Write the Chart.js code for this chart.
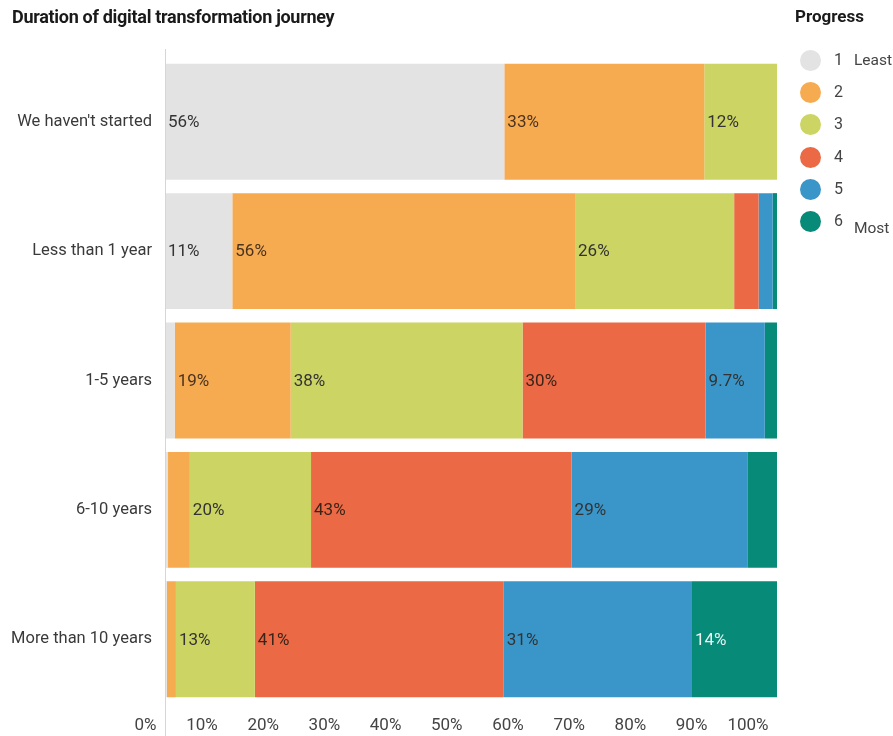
<!DOCTYPE html>
<html>
<head>
<meta charset="utf-8">
<script src="https://cdn.jsdelivr.net/npm/chart.js@4.4.1/dist/chart.umd.min.js"></script>
<style>
  body { margin: 0; background: #fff; }
  #wrap { position: relative; width: 893px; height: 736px; }
  #title { position: absolute; left: 12px; top: 6px; font: bold 18px Roboto, sans-serif; color: #1a1a1a; letter-spacing: -0.3px; }
  #legend { position: absolute; left: 795px; top: 6px; font-family: Roboto, sans-serif; color: #444; }
  #legend .head { font: bold 17px Roboto, sans-serif; color: #1a1a1a; margin-bottom: 24px; }
  #legend .item { position: relative; height: 32.2px; }
  #legend .dot { position: absolute; left: 5px; top: 0; width: 21px; height: 21px; border-radius: 50%; }
  #legend .num { position: absolute; left: 39px; top: 0px; font-size: 16px; line-height: 20px; }
  #legend .txt { position: absolute; left: 59px; top: 0px; font-size: 15.5px; line-height: 20px; }
</style>
</head>
<body>
<div id="wrap">
  <canvas id="chart" width="893" height="736"></canvas>
  <div id="title">Duration of digital transformation journey</div>
  <div id="legend"></div>
</div>
<script>
const categories = ["We haven't started", "Less than 1 year", "1-5 years", "6-10 years", "More than 10 years"];

// share of respondents at each progress level (1 = least, 6 = most)
const progress1 = [56, 11, 1.6, 0.5, 0.3];
const progress2 = [33, 56, 19, 3.6, 1.5];
const progress3 = [12, 26, 38, 20, 13];
const progress4 = [0, 4, 30, 43, 41];
const progress5 = [0, 2.3, 9.7, 29, 31];
const progress6 = [0, 0.7, 2, 4.9, 14];

const seriesNames = ["1", "2", "3", "4", "5", "6"];
const seriesNotes = ["Least", "", "", "", "", "Most"];
const colors = ["#e3e3e3", "#f6ab51", "#ccd463", "#eb6945", "#3a96c9", "#078a78"];
const labelColors = ["#333", "#4a3320", "#333", "#3a2418", "#333", "#e8f4f1"];

const xTicks = [0, 10, 20, 30, 40, 50, 60, 70, 80, 90, 100];

const allSeries = [progress1, progress2, progress3, progress4, progress5, progress6];

// each row is shown as a 100% bar
const rowTotals = categories.map((c, i) =>
    allSeries.reduce((sum, s) => sum + s[i], 0)
);

const datasets = allSeries.map((s, k) => ({
    label: seriesNames[k],
    data: s.map((v, i) => v / rowTotals[i] * 100),
    raw: s,
    backgroundColor: colors[k],
    borderWidth: 0,
    categoryPercentage: 1,
    barPercentage: 0.896
}));

// legend
const legend = document.getElementById("legend");
legend.innerHTML = '<div class="head">Progress</div>';
seriesNames.forEach((name, k) => {
    const item = document.createElement("div");
    item.className = "item";
    item.innerHTML = `<div class="dot" style="background:${colors[k]}"></div>` +
        `<div class="num">${name}</div>` +
        (seriesNotes[k] ? `<div class="txt" style="top:${k == 5 ? 7 : 0}px">${seriesNotes[k]}</div>` : "");
    legend.appendChild(item);
});

function fmt(v) {
    return v >= 10 ? Math.round(v) + "%" : v.toFixed(1) + "%";
}

const segmentLabels = {
    id: "segmentLabels",
    afterDatasetsDraw(chart) {
        const ctx = chart.ctx;
        ctx.save();
        ctx.font = "17px Roboto, sans-serif";
        ctx.textAlign = "left";
        ctx.textBaseline = "middle";
        chart.data.datasets.forEach((ds, k) => {
            const meta = chart.getDatasetMeta(k);
            meta.data.forEach((bar, i) => {
                const v = ds.raw[i];
                if (v < 9) return;
                ctx.fillStyle = labelColors[k];
                ctx.fillText(fmt(v), Math.min(bar.x, bar.base) + 3, bar.y + 1);
            });
        });
        ctx.restore();
    }
};

// long vertical rule at the left edge of the bars
const axisRule = {
    id: "axisRule",
    afterDraw(chart) {
        const ctx = chart.ctx;
        const x = Math.round(chart.chartArea.left) + 0.5;
        ctx.save();
        ctx.strokeStyle = "#d6d6d6";
        ctx.lineWidth = 1;
        ctx.beginPath();
        ctx.moveTo(x, 49);
        ctx.lineTo(x, 736);
        ctx.stroke();
        ctx.restore();
    }
};

new Chart(document.getElementById("chart"), {
    type: "bar",
    data: { labels: categories, datasets: datasets },
    options: {
        indexAxis: "y",
        responsive: false,
        animation: false,
        layout: { padding: { top: 57, right: 116, bottom: 0, left: 0 } },
        plugins: {
            legend: { display: false },
            tooltip: { enabled: false }
        },
        scales: {
            x: {
                stacked: true,
                min: 0,
                max: 100,
                afterBuildTicks: (s) => { s.ticks = xTicks.map(v => ({ value: v })); },
                afterFit: (s) => { s.height = 32; },
                grid: { display: false, drawTicks: false },
                border: { display: false },
                ticks: {
                    align: "end",
                    padding: 12,
                    autoSkip: false,
                    maxRotation: 0,
                    color: "#444",
                    font: { family: "Roboto", size: 17 },
                    callback: (v) => v + "%  "
                }
            },
            y: {
                stacked: true,
                afterFit: (s) => { s.width = 165; },
                grid: { display: false, drawTicks: false },
                border: { display: false },
                ticks: {
                    padding: 13,
                    color: "#3a3a3a",
                    font: { family: "Roboto", size: 16.5 }
                }
            }
        }
    },
    plugins: [segmentLabels, axisRule]
});
</script>
</body>
</html>
